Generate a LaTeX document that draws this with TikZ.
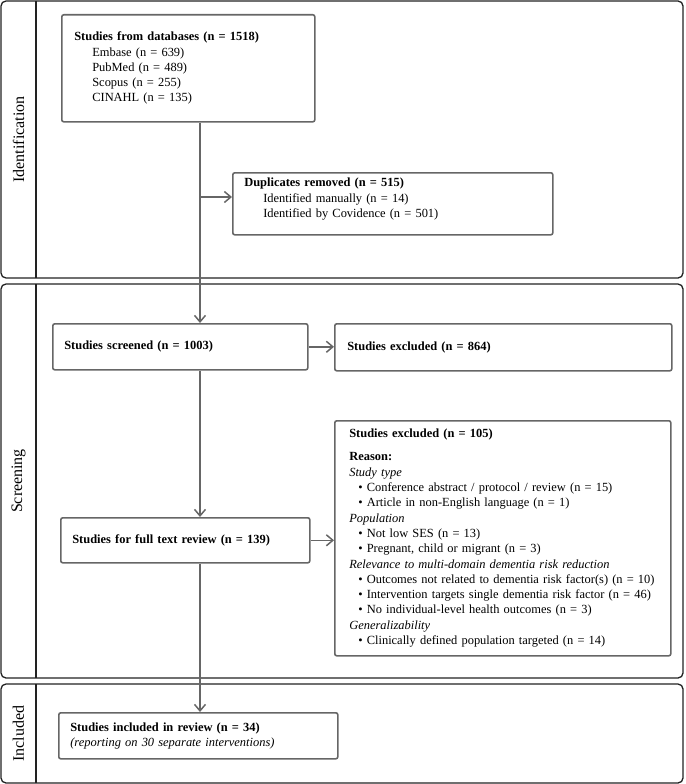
\documentclass[tikz,border=0pt]{standalone}
\usepackage{fontspec}
\setmainfont{Liberation Serif}
\usetikzlibrary{arrows.meta,calc}
\definecolor{boxgray}{HTML}{666666}
\definecolor{panelc}{HTML}{222222}
\begin{document}
\begin{tikzpicture}[x=1pt,y=-1pt,
  panel/.style={draw=panelc,line width=1.3pt,rounded corners=5pt},
  divline/.style={draw=panelc,line width=1.3pt},
  fbox/.style={draw=boxgray,line width=1.6pt,rounded corners=2pt,inner xsep=11pt,inner ysep=0pt,
    align=left,anchor=north west,font=\fontsize{12.45}{15.3}\selectfont},
  plabel/.style={rotate=90,font=\fontsize{16}{18}\selectfont},
  arr/.style={draw=boxgray,line width=1.5pt,-{Straight Barb[length=6.5pt,width=11pt,line width=1.5pt]}}]
\useasboundingbox (0,0) rectangle (685,784);
% panels
\draw[panel] (1,1) rectangle (683,278);
\draw[divline] (36,1) -- (36,278);
\draw[panel] (1,284) rectangle (683,678);
\draw[divline] (36,284) -- (36,678);
\draw[panel] (1,684) rectangle (683,783);
\draw[divline] (36,684) -- (36,783);
\node[plabel] (lid) at (18.5,139.5) {Identification};
\node[plabel] (lsc) at (18.5,481) {Screening};
\node[plabel] (lin) at (18.5,733.5) {Included};
% boxes
\node[fbox,inner xsep=12pt,minimum width=253pt,minimum height=107pt,text width=228pt] (db) at (61,14)
 {\textbf{Studies from databases (n = 1518)}\\
  \hspace*{18pt}Embase (n = 639)\\
  \hspace*{18pt}PubMed (n = 489)\\
  \hspace*{18pt}Scopus (n = 255)\\
  \hspace*{18pt}CINAHL (n = 135)};
\node[fbox,minimum width=320pt,minimum height=62pt,text width=297pt] (dup) at (232,172)
 {\textbf{Duplicates removed (n = 515)}\\
  \hspace*{19pt}Identified manually (n = 14)\\
  \hspace*{19pt}Identified by Covidence (n = 501)\\[-3.5pt]\mbox{}};
\node[fbox,minimum width=255pt,minimum height=46pt,text width=232pt] (scr) at (52,323)
 {\textbf{Studies screened (n = 1003)}};
\node[fbox,inner xsep=12pt,minimum width=337pt,minimum height=47pt,text width=312pt] (ex1) at (334,323)
 {\textbf{Studies excluded (n = 864)}};
\node[fbox,minimum width=249pt,minimum height=45pt,text width=226pt] (ft) at (60,517)
 {\textbf{Studies for full text review (n = 139)}};
\node[fbox,inner xsep=14pt,minimum width=336pt,minimum height=235pt,text width=307pt] (ex2) at (334,420)
 {\textbf{Studies excluded (n = 105)}\\[7.7pt]
  \textbf{Reason:}\\
  \textit{Study type}\\
  \mbox{\hspace*{9pt}\textbullet\ Conference abstract / protocol / review (n = 15)}\\
  \mbox{\hspace*{9pt}\textbullet\ Article in non-English language (n = 1)}\\
  \textit{Population}\\
  \mbox{\hspace*{9pt}\textbullet\ Not low SES (n = 13)}\\
  \mbox{\hspace*{9pt}\textbullet\ Pregnant, child or migrant (n = 3)}\\
  \mbox{\textit{Relevance to multi-domain dementia risk reduction}}\\
  \mbox{\hspace*{9pt}\textbullet\ Outcomes not related to dementia risk factor(s) (n = 10)}\\
  \mbox{\hspace*{9pt}\textbullet\ Intervention targets single dementia risk factor (n = 46)}\\
  \mbox{\hspace*{9pt}\textbullet\ No individual-level health outcomes (n = 3)}\\
  \textit{Generalizability}\\
  \mbox{\hspace*{9pt}\textbullet\ Clinically defined population targeted (n = 14)}};
\node[fbox,minimum width=279pt,minimum height=46pt,text width=256pt] (inc) at (58,712)
 {\textbf{Studies included in review (n = 34)}\\
  \textit{(reporting on 30 separate interventions)}};
% connectors
\coordinate (j1) at (200,197);
\draw[arr] (j1 |- db.south) -- (j1 |- scr.north);
\draw[arr] (j1) -- (j1 -| dup.west);
\draw[arr] (scr.east) -- (scr.east -| ex1.west);
\draw[arr] (j1 |- scr.south) -- (j1 |- ft.north);
\draw[arr] (ft.east) -- (ft.east -| ex2.west);
\draw[arr] (j1 |- ft.south) -- (j1 |- inc.north);
\end{tikzpicture}
\end{document}
